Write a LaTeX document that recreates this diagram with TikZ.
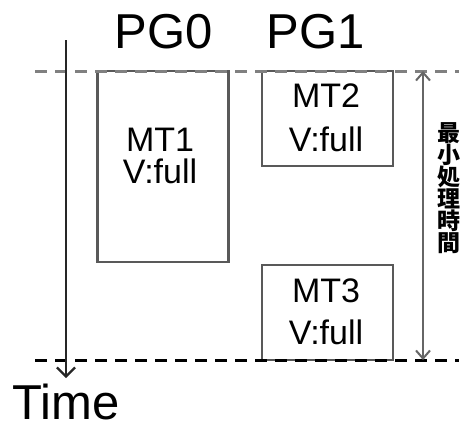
\documentclass[tikz,border=0pt]{standalone}
\usepackage{fontspec}
\setmainfont{Liberation Sans}
\newfontfamily\cjk{Noto Sans CJK JP}
\usetikzlibrary{arrows.meta}
\tikzset{
  taskbox/.style={draw=black!65, line width=2.2pt, minimum width=131pt, inner sep=0pt},
  tasktext/.style={align=center, inner sep=0pt, font=\fontsize{34}{32}\selectfont},
  pglabel/.style={anchor=base, inner sep=0pt, font=\fontsize{49}{49}\selectfont},
  guide/.style={line width=3pt, dash pattern=on 12pt off 8pt},
}
\begin{document}
\begin{tikzpicture}[x=1pt,y=-1pt]
\useasboundingbox (0,0) rectangle (461,426);

\node[pglabel] (pg0) at (164,48) {PG0};
\node[pglabel] (pg1) at (316,48) {PG1};

\node[taskbox, minimum height=191pt] (mt1) at (163,166.5) {};
\node[tasktext] (mt1txt) at (160,155.5) {MT1\\V:full};
\node[taskbox, minimum height=95pt] (mt2) at (327.5,118.5) {};
\node[tasktext] (mt2txt) at (326,117.5) {MT2\\[12pt]V:full};
\node[taskbox, minimum height=95pt] (mt3) at (327.5,312.5) {};
\node[tasktext] (mt3txt) at (326,311.5) {MT3\\[10pt]V:full};

\coordinate (topl) at (35,71);
\coordinate (topr) at (459,71);
\coordinate (botl) at (35,360);
\coordinate (botr) at (459,360);
\draw[guide, black!50] (topl) -- (topr);
\draw[guide, black] (botl) -- (botr);

\coordinate (tstart) at (66,40);
\coordinate (tend) at (66,378);
\draw[line width=2.2pt, black!85, -{Straight Barb[length=9pt,width=18pt]}] (tstart) -- (tend);
\node[pglabel] (time) at (66,419) {Time};

\coordinate (spanu) at (423,71);
\coordinate (spand) at (423,360);
\draw[line width=2pt, black!60, {Straight Barb[length=8pt,width=14pt]}-{Straight Barb[length=8pt,width=14pt]}] (spanu) -- (spand);
\node[align=center, inner sep=0pt, font=\cjk\bfseries\fontsize{23}{22}\selectfont] (mintime) at (448.5,188) {最\\小\\処\\理\\時\\間};
\end{tikzpicture}
\end{document}
